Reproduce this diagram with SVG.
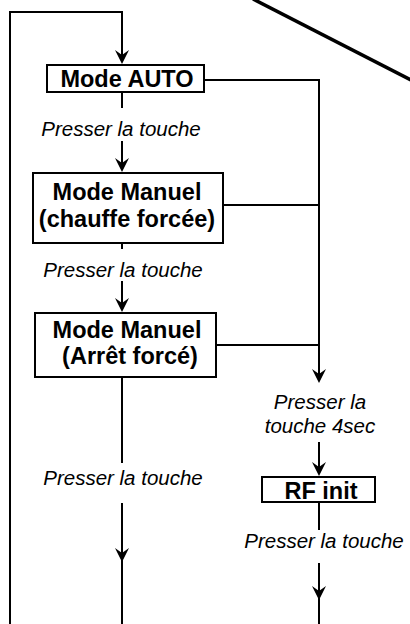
<svg xmlns="http://www.w3.org/2000/svg" width="410" height="624" viewBox="0 0 410 624">
  <style>
    .box { fill: #fff; stroke: #000; stroke-width: 2; }
    .wire { fill: none; stroke: #000; stroke-width: 2; }
    .title { font-family: "Liberation Sans", Arial, sans-serif; font-weight: bold; font-size: 23.5px; text-anchor: middle; fill: #000; }
    .note { font-family: "Liberation Sans", Arial, sans-serif; font-style: italic; font-size: 20.5px; text-anchor: middle; fill: #000; }
  </style>
  <defs>
    <!-- arrowhead pointing down, tip at origin -->
    <path id="head" d="M-7,-14 L0,0 L7,-14 L0,-9 Z" fill="#000"/>
  </defs>

  <rect width="410" height="624" fill="#fff"/>

  <!-- diagonal stroke at the top right -->
  <line x1="253" y1="-1" x2="411" y2="80" stroke="#000" stroke-width="3.5"/>

  <g id="connectors">
    <!-- return loop on the left, back into Mode AUTO -->
    <path class="wire" d="M10,624 V12 H122 V62"/>
    <use href="#head" x="122" y="64"/>

    <!-- Mode AUTO -> Mode Manuel (chauffe forcée) -->
    <path class="wire" d="M122,92 V108 M122,141 V170"/>
    <use href="#head" x="122" y="172"/>

    <!-- chauffe forcée -> Arrêt forcé -->
    <path class="wire" d="M122,243 V249 M122,281 V310"/>
    <use href="#head" x="122" y="312"/>

    <!-- Arrêt forcé downwards -->
    <path class="wire" d="M122,377 V463 M122,503 V624"/>
    <use href="#head" x="122" y="562"/>

    <!-- branch on the right towards RF init -->
    <path class="wire" d="M204,80 H319 V380 M223,205 H319 M216,345 H319"/>
    <use href="#head" x="319" y="383"/>
    <path class="wire" d="M319,442 V474"/>
    <use href="#head" x="319" y="476"/>
    <path class="wire" d="M319,502 V530 M319,563 V624"/>
    <use href="#head" x="319" y="600"/>
  </g>

  <g id="mode-auto">
    <rect class="box" x="47" y="65" width="157" height="27"/>
    <text class="title" x="127" y="87">Mode AUTO</text>
  </g>

  <g id="label-1">
    <text class="note" x="121" y="136">Presser la touche</text>
  </g>

  <g id="mode-manuel-chauffe">
    <rect class="box" x="33" y="173" width="190" height="70"/>
    <text class="title" x="127" y="200">Mode Manuel</text>
    <text class="title" x="127" y="227">(chauffe forcée)</text>
  </g>

  <g id="label-2">
    <text class="note" x="123" y="277">Presser la touche</text>
  </g>

  <g id="mode-manuel-arret">
    <rect class="box" x="35" y="313" width="181" height="64"/>
    <text class="title" x="127" y="338">Mode Manuel</text>
    <text class="title" x="130" y="364">(Arrêt forcé)</text>
  </g>

  <g id="label-3">
    <text class="note" x="123" y="485">Presser la touche</text>
  </g>

  <g id="label-4sec">
    <text class="note" x="320" y="409">Presser la</text>
    <text class="note" x="320" y="433">touche 4sec</text>
  </g>

  <g id="rf-init">
    <rect class="box" x="262" y="477" width="113" height="25"/>
    <text class="title" x="321" y="499">RF init</text>
  </g>

  <g id="label-4">
    <text class="note" x="324" y="548">Presser la touche</text>
  </g>
</svg>
